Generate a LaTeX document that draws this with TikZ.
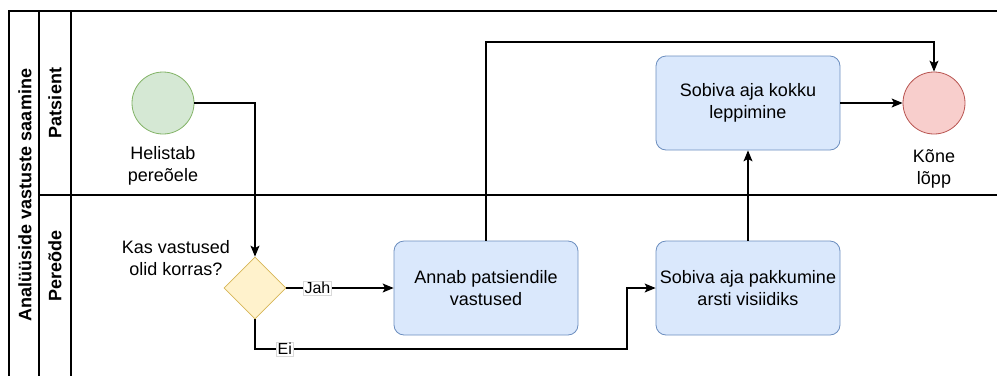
\documentclass[tikz,border=0pt]{standalone}
\usepackage{fontspec}
\setmainfont{Liberation Sans}
\usetikzlibrary{arrows.meta,shapes.geometric}

\definecolor{startfill}{HTML}{D5E8D4}
\definecolor{startline}{HTML}{82B366}
\definecolor{endfill}{HTML}{F8CECC}
\definecolor{endline}{HTML}{B85450}
\definecolor{taskfill}{HTML}{DAE8FC}
\definecolor{taskline}{HTML}{6C8EBF}
\definecolor{gatefill}{HTML}{FFF2CC}
\definecolor{gateline}{HTML}{D6B656}

\begin{document}
\begin{tikzpicture}[x=1pt,y=-1pt]
  % Base settings
  \tikzset{
    lane/.style={line width=1.1pt},
    flow/.style={line width=1.1pt, -{Stealth[length=11pt,width=9pt,inset=2.5pt]}},
    txt/.style={font=\fontsize{18}{22}\selectfont, align=center, inner sep=0pt},
    task/.style={txt, draw=taskline, fill=taskfill, line width=0.8pt, rounded corners=10pt,
      minimum width=184pt, minimum height=94pt},
    event/.style={circle, line width=0.8pt, minimum size=62pt, inner sep=0pt},
    gate/.style={diamond, draw=gateline, fill=gatefill, line width=0.8pt, minimum size=62pt, inner sep=0pt},
    flowlabel/.style={font=\fontsize{16}{18}\selectfont, fill=white, draw=black!15, line width=0.4pt, inner sep=1pt}
  }
  \useasboundingbox (0,0) rectangle (997,376);

  % --- Pool and lanes ---
  \draw[lane] (997,11) -- (9,11) -- (9,376);
  \draw[lane] (39,11) -- (39,376);
  \draw[lane] (71,11) -- (71,376);
  \draw[lane] (39,195) -- (997,195);
  \node[txt, font=\fontsize{18}{22}\selectfont\bfseries, rotate=90] (pool) at (25,195) {Analüüside vastuste saamine};
  \node[txt, font=\fontsize{18}{22}\selectfont\bfseries, rotate=90] (patsient) at (55,103) {Patsient};
  \node[txt, font=\fontsize{18}{22}\selectfont\bfseries, rotate=90] (pereode) at (55,266) {Pereõde};

  % --- Nodes ---
  \node[event, draw=startline, fill=startfill] (start) at (163,103) {};
  \node[txt] (startlabel) at (163,166) {Helistab\\pereõele};
  \node[gate] (gate) at (255,288) {};
  \node[txt] (gatelabel) at (176,258) {Kas vastused\\olid korras?};
  \node[task] (annab) at (486,288) {Annab patsiendile\\vastused};
  \node[task] (pakk) at (748,288) {Sobiva aja pakkumine\\arsti visiidiks};
  \node[task] (kokku) at (748,103) {Sobiva aja kokku\\leppimine};
  \node[event, draw=endline, fill=endfill] (end) at (934,103) {};
  \node[txt] (endlabel) at (934,169) {Kõne\\lõpp};

  % --- Connectors ---
  \coordinate (eiturn) at (627,349);
  \coordinate (topturn) at (700,42);
  \draw[flow] (start.east) -| (gate.north);
  \draw[flow] (gate.east) -- node[flowlabel, pos=0.29] {Jah} (annab.west);
  \draw[flow] (gate.south) |- node[flowlabel, pos=0.54] {Ei} (eiturn) |- (pakk.west);
  \draw[flow] (annab.north) |- (topturn) -| (end.north);
  \draw[flow] (pakk.north) -- (kokku.south);
  \draw[flow] (kokku.east) -- (end.west);
\end{tikzpicture}
\end{document}
